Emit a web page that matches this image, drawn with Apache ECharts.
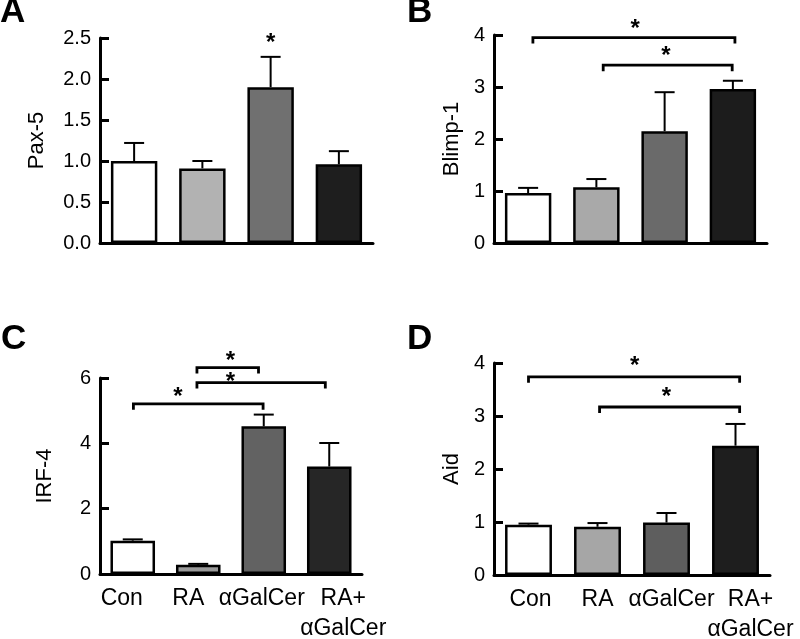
<!DOCTYPE html>
<html>
<head>
<meta charset="utf-8">
<script src="https://cdn.jsdelivr.net/npm/echarts@6/dist/echarts.min.js"></script>
<style>html,body{margin:0;padding:0;background:#fff;}#c{width:800px;height:639px;}</style>
</head>
<body>
<div id="c"></div>
<script>
// ---------- data ----------
const categories = ['Con', 'RA', 'αGalCer', 'RA+\nαGalCer'];

const paxMean   = [1.00, 0.91, 1.90, 0.96];
const paxSem    = [0.22, 0.09, 0.37, 0.16];
const blimpMean = [0.96, 1.07, 2.15, 2.96];
const blimpSem  = [0.10, 0.16, 0.75, 0.16];
const irfMean   = [1.02, 0.28, 4.52, 3.29];
const irfSem    = [0.04, 0.03, 0.36, 0.72];
const aidMean   = [0.95, 0.91, 0.99, 2.44];
const aidSem    = [0.02, 0.07, 0.18, 0.41];

const yNames  = ['Pax-5', 'Blimp-1', 'IRF-4', 'Aid'];
const yMax    = [2.5, 4, 6, 4];
const yStep   = [0.5, 1, 2, 1];
const panelLetters = ['A', 'B', 'C', 'D'];

// significance brackets: [from category, to category, level]
const bracketsA = [];
const bracketsB = [[0.07, 3.03, 3.95], [1.10, 2.99, 3.42]];
const bracketsC = [[0.98, 1.92, 6.32], [0.98, 2.94, 5.86], [0.01, 1.99, 5.21]];
const bracketsD = [[0.00, 3.06, 3.74], [1.03, 3.06, 3.17]];
// asterisks: [category position, level]
const starsA = [[2.00, 2.51]];
const starsB = [[1.57, 4.23], [2.02, 3.70]];
const starsC = [[1.49, 6.68], [1.49, 6.05], [0.69, 5.59]];
const starsD = [[1.54, 4.05], [2.00, 3.46]];

// ---------- styles / layout ----------
const FONT = 'Liberation Sans, Arial, Helvetica, sans-serif';
const fills = [
  ['#ffffff', '#b2b2b2', '#707070', '#1e1e1e'],
  ['#ffffff', '#a9a9a9', '#6a6a6a', '#1c1c1c'],
  ['#ffffff', '#9a9a9a', '#626262', '#262626'],
  ['#ffffff', '#a6a6a6', '#5e5e5e', '#1e1e1e']
];
const grids = [
  {left: 100, top: 38,  width: 273, height: 205},
  {left: 494, top: 35,  width: 273, height: 208},
  {left: 100, top: 378, width: 262, height: 196},
  {left: 494, top: 363, width: 276, height: 212}
];
const nameGaps = [52, 31, 44, 31];
const showXLabels = [false, false, true, true];
const labelShift = [[0, 0, 0, 0], [0, 0, 0, 0], [-11, -10, -2, 14], [2, 0, 5, 15]];
const letterPos = [[0, 12], [407, 12], [1, 339], [407, 339]];

const means = [paxMean, blimpMean, irfMean, aidMean];
const sems  = [paxSem, blimpSem, irfSem, aidSem];
const brackets = [bracketsA, bracketsB, bracketsC, bracketsD];
const stars = [starsA, starsB, starsC, starsD];

const chart = echarts.init(document.getElementById('c'));

const option = {
  animation: false,
  backgroundColor: '#ffffff',
  textStyle: {fontFamily: FONT},
  grid: grids.map(g => Object.assign({outerBoundsMode: 'none', containLabel: false}, g)),
  xAxis: grids.map((g, p) => ({
    type: 'category',
    gridIndex: p,
    data: categories.map((c, i) => {
      const d = labelShift[p][i];
      return {
        value: c,
        textStyle: {padding: d >= 0 ? [0, 0, 0, 2 * d] : [0, -2 * d, 0, 0]}
      };
    }),
    axisLine: {lineStyle: {color: '#000', width: 3}},
    axisTick: {show: false},
    axisLabel: {
      show: showXLabels[p], color: '#000', fontSize: 23, fontFamily: FONT,
      margin: 10, lineHeight: 30, interval: 0
    }
  })),
  yAxis: grids.map((g, p) => ({
    type: 'value',
    gridIndex: p,
    min: 0, max: yMax[p], interval: yStep[p],
    name: yNames[p], nameLocation: 'middle', nameRotate: 90, nameGap: nameGaps[p],
    nameTextStyle: {color: '#000', fontSize: 22, fontFamily: FONT},
    axisLine: {show: true, lineStyle: {color: '#000', width: 3}},
    axisTick: {show: true, inside: true, length: 9, lineStyle: {color: '#000', width: 3}},
    splitLine: {show: false},
    axisLabel: {
      color: '#000', fontSize: 20, fontFamily: FONT, margin: 9,
      formatter: v => p === 0 ? v.toFixed(1) : String(v)
    }
  })),
  graphic: panelLetters.map((t, p) => ({
    type: 'text', left: letterPos[p][0], top: letterPos[p][1] - 17,
    style: {text: t, fill: '#000', font: 'bold 35px ' + FONT}
  })),
  series: []
};

function bandPos(api, c, v) {
  const p0 = api.coord([0, v]);
  const band = api.size([1, 0])[0];
  return [p0[0] + c * band, p0[1]];
}

for (let p = 0; p < 4; p++) {
  option.series.push({
    type: 'bar',
    xAxisIndex: p, yAxisIndex: p,
    barCategoryGap: '32%',
    data: means[p].map((v, i) => ({
      value: v,
      itemStyle: {color: fills[p][i], borderColor: '#000', borderWidth: 2.5}
    })),
    z: 2
  });
  option.series.push({
    type: 'custom',
    xAxisIndex: p, yAxisIndex: p,
    data: means[p].map((v, i) => [i, v, v + sems[p][i]]),
    encode: {x: 0, y: [1, 2]},
    z: 1,
    renderItem: function (params, api) {
      const lo = api.coord([api.value(0), api.value(1)]);
      const hi = api.coord([api.value(0), api.value(2)]);
      const w = 10;
      return {
        type: 'group',
        children: [
          {type: 'line', shape: {x1: lo[0], y1: lo[1], x2: hi[0], y2: hi[1]},
           style: {stroke: '#000', lineWidth: 2}},
          {type: 'line', shape: {x1: hi[0] - w, y1: hi[1], x2: hi[0] + w, y2: hi[1]},
           style: {stroke: '#000', lineWidth: 2}}
        ]
      };
    }
  });
  if (brackets[p].length) {
    option.series.push({
      type: 'custom',
      xAxisIndex: p, yAxisIndex: p,
      data: brackets[p].map((b, i) => [0, 0]),
      clip: false,
      z: 3,
      renderItem: function (params, api) {
        const b = brackets[p][params.dataIndex];
        const a = bandPos(api, b[0], b[2]);
        const e = bandPos(api, b[1], b[2]);
        const tip = 6;
        return {
          type: 'polyline',
          shape: {points: [[a[0], a[1] + tip], [a[0], a[1]], [e[0], e[1]], [e[0], e[1] + tip]]},
          style: {stroke: '#000', lineWidth: 2.8, fill: null}
        };
      }
    });
  }
  option.series.push({
    type: 'custom',
    xAxisIndex: p, yAxisIndex: p,
    data: stars[p].map(() => [0, 0]),
    clip: false,
    z: 3,
    renderItem: function (params, api) {
      const s = stars[p][params.dataIndex];
      const c = bandPos(api, s[0], s[1]);
      return {
        type: 'text',
        style: {text: '*', x: c[0], y: c[1] + 6, align: 'center', verticalAlign: 'middle',
                fill: '#000', font: 'bold 24px ' + FONT}
      };
    }
  });
}

chart.setOption(option);
</script>
</body>
</html>
